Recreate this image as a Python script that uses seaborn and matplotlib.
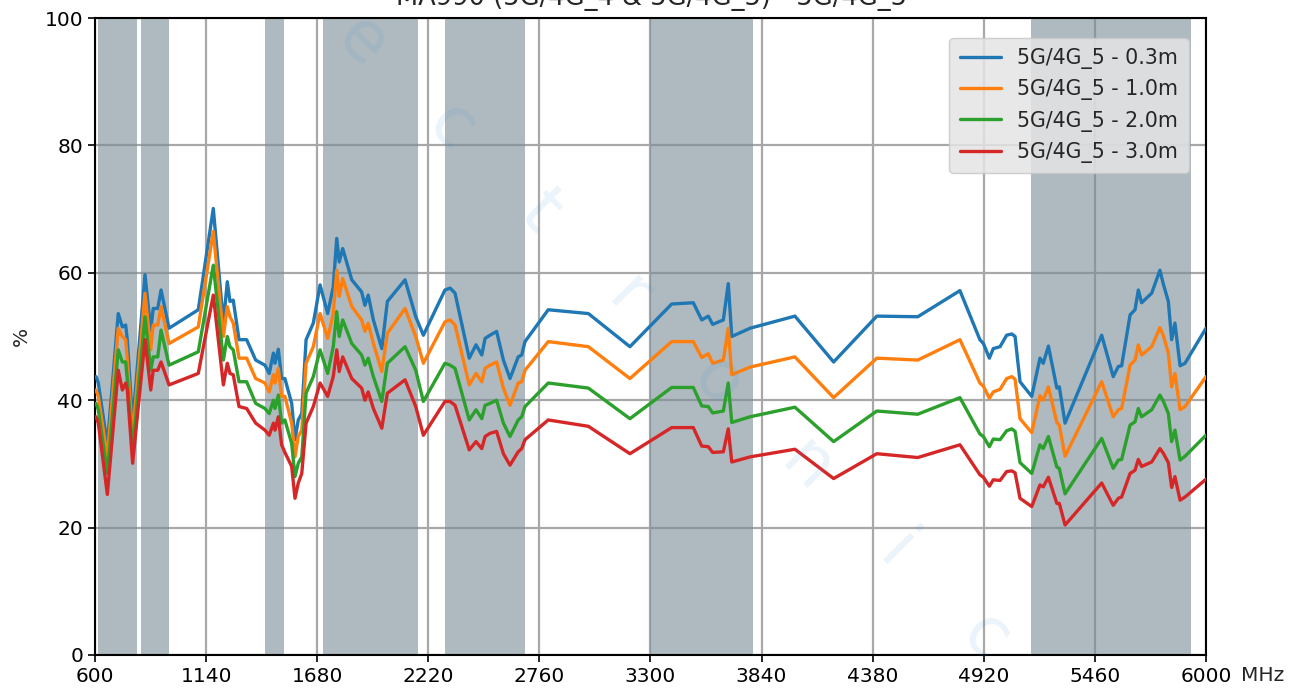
import numpy as np
import pandas as pd
import matplotlib
matplotlib.use("Agg")
import matplotlib.pyplot as plt
import seaborn as sns

freq_mhz = [605, 616, 660, 713, 733, 749, 757, 783, 843, 871, 883, 905, 921, 960,
            1102, 1175, 1224, 1243, 1256, 1272, 1300, 1337, 1381, 1426, 1447, 1467,
            1475, 1491, 1507, 1523, 1556, 1572, 1588, 1605, 1626, 1661, 1694, 1731,
            1758, 1775, 1787, 1804, 1848, 1896, 1912, 1928, 1953, 1994, 2021, 2107,
            2159, 2196, 2301, 2326, 2350, 2419, 2452, 2480, 2496, 2520, 2552, 2585,
            2617, 2657, 2674, 2690, 2803, 2998, 3200, 3403, 3508, 3549, 3581, 3602,
            3654, 3678, 3695, 3784, 4002, 4190, 4400, 4599, 4804, 4901, 4918, 4947,
            4966, 4999, 5031, 5056, 5072, 5096, 5153, 5193, 5209, 5234, 5275, 5287,
            5315, 5493, 5549, 5574, 5590, 5631, 5655, 5671, 5687, 5736, 5776, 5792,
            5817, 5833, 5849, 5874, 5898, 6000]

eff_03m = [43.7, 42.7, 33.0, 53.6, 51.5, 51.8, 49.5, 36.4, 59.7, 51.0, 54.4, 54.4, 57.3, 51.3,
           54.2, 70.1, 52.1, 58.6, 55.5, 55.7, 49.5, 49.5, 46.3, 45.5, 44.2, 47.4,
           45.8, 48.0, 43.4, 43.4, 39.5, 33.8, 36.9, 37.9, 49.5, 52.1, 58.1, 53.6,
           57.8, 65.4, 61.7, 63.8, 58.9, 57.0, 54.9, 56.5, 52.6, 48.1, 55.5, 58.9,
           53.1, 50.2, 57.3, 57.6, 56.8, 46.6, 48.7, 47.1, 49.7, 50.2, 50.8, 46.3,
           43.4, 46.8, 47.1, 49.2, 54.2, 53.6, 48.4, 55.1, 55.3, 52.6, 53.2, 51.9,
           52.6, 58.3, 50.0, 51.3, 53.2, 46.0, 53.2, 53.1, 57.2, 49.5, 48.9, 46.6,
           48.1, 48.4, 50.2, 50.4, 50.0, 42.9, 40.6, 46.6, 45.8, 48.5, 41.9, 42.1,
           36.4, 50.2, 43.7, 45.3, 45.4, 53.4, 54.2, 57.3, 55.3, 56.8, 60.4, 58.3,
           55.5, 49.5, 52.1, 45.4, 45.8, 51.3]

eff_10m = [41.6, 40.6, 31.0, 51.3, 50.0, 49.5, 46.3, 34.3, 56.8, 47.9, 51.8, 51.8, 54.7, 48.9,
           51.5, 66.5, 50.0, 54.7, 53.1, 52.1, 46.6, 46.6, 43.4, 42.7, 41.3, 44.0,
           42.7, 45.0, 40.6, 40.6, 36.4, 31.1, 34.3, 35.3, 45.8, 48.4, 53.6, 49.7,
           53.6, 60.4, 56.3, 59.1, 54.7, 52.6, 50.8, 52.1, 48.9, 44.5, 50.5, 54.4,
           50.0, 45.8, 52.3, 52.6, 51.8, 42.4, 44.2, 42.9, 45.0, 45.5, 46.0, 41.9,
           39.2, 42.7, 42.9, 44.7, 49.2, 48.4, 43.4, 49.2, 49.2, 46.7, 47.3, 45.8,
           46.3, 51.3, 44.0, 45.2, 46.8, 40.4, 46.6, 46.3, 49.5, 42.7, 42.2, 40.3,
           41.3, 41.7, 43.4, 43.7, 43.3, 37.1, 34.9, 40.7, 40.0, 42.1, 36.5, 36.1,
           31.2, 42.9, 37.4, 38.5, 38.7, 45.5, 46.3, 48.7, 47.1, 48.4, 51.4, 50.2,
           47.4, 42.1, 44.2, 38.5, 39.0, 43.7]

eff_20m = [39.5, 38.5, 28.5, 47.9, 46.0, 46.0, 43.2, 32.2, 53.1, 44.7, 46.8, 46.8, 51.0, 45.5,
           47.6, 61.2, 46.3, 50.0, 48.4, 47.9, 42.9, 42.9, 39.5, 38.7, 37.9, 40.0,
           38.7, 40.8, 36.4, 36.9, 33.2, 28.0, 30.1, 31.1, 41.1, 43.7, 47.9, 44.2,
           48.4, 53.9, 50.0, 52.6, 48.9, 47.1, 45.5, 46.6, 43.7, 39.8, 45.8, 48.4,
           44.7, 39.8, 45.8, 45.5, 45.0, 36.9, 38.5, 37.1, 39.2, 39.5, 40.0, 36.4,
           34.3, 36.9, 37.4, 39.0, 42.7, 41.9, 37.1, 42.0, 42.0, 39.1, 39.0, 38.0,
           38.3, 42.7, 36.5, 37.4, 38.9, 33.5, 38.3, 37.8, 40.4, 34.7, 34.3, 32.7,
           33.9, 33.8, 35.2, 35.5, 35.1, 30.2, 28.5, 33.0, 32.4, 34.3, 29.5, 29.3,
           25.3, 34.0, 29.3, 30.6, 30.7, 36.1, 36.6, 38.7, 37.4, 38.5, 40.8, 39.9,
           37.9, 33.5, 35.3, 30.6, 31.2, 34.5]

eff_30m = [37.4, 36.4, 25.2, 44.7, 41.6, 42.7, 41.6, 30.1, 49.5, 41.6, 44.7, 44.7, 46.0, 42.4,
           44.2, 56.5, 42.4, 45.8, 44.2, 44.0, 39.0, 38.7, 36.4, 35.3, 34.5, 36.4,
           35.3, 37.4, 33.0, 31.8, 29.6, 24.6, 27.0, 28.5, 36.4, 39.0, 42.7, 40.6,
           43.7, 47.9, 44.5, 46.8, 43.4, 41.9, 40.0, 41.3, 38.7, 35.6, 41.1, 43.2,
           39.0, 34.5, 39.8, 39.8, 39.2, 32.2, 33.5, 32.4, 34.3, 34.8, 35.1, 31.6,
           29.8, 31.9, 32.4, 33.8, 36.9, 35.9, 31.6, 35.7, 35.7, 32.8, 32.7, 31.8,
           31.9, 35.5, 30.3, 31.1, 32.3, 27.7, 31.6, 31.0, 33.0, 28.3, 27.9, 26.5,
           27.5, 27.4, 28.8, 28.9, 28.6, 24.6, 23.3, 26.7, 26.4, 27.9, 23.8, 23.8,
           20.4, 27.0, 23.5, 24.6, 24.8, 28.5, 29.0, 30.7, 29.6, 30.3, 32.4, 31.7,
           30.2, 26.3, 28.0, 24.3, 24.8, 27.6]

series_labels = ["5G/4G_5 - 0.3m", "5G/4G_5 - 1.0m", "5G/4G_5 - 2.0m", "5G/4G_5 - 3.0m"]
series_colors = ["#1f77b4", "#ff7f0e", "#2ca02c", "#d62728"]

band_starts = [617, 824, 1427, 1710, 2300, 3300, 5150]
band_ends = [803, 960, 1517, 2170, 2690, 3800, 5925]

x_ticks = [600, 1140, 1680, 2220, 2760, 3300, 3840, 4380, 4920, 5460, 6000]
y_ticks = [0, 20, 40, 60, 80, 100]
title_text = "MA990 (5G/4G_4 & 5G/4G_5) - 5G/4G_5"
watermark_letters = ["e", "c", "t", "r", "o", "n", "i", "c"]

frames = []
for lab, vals in zip(series_labels, [eff_03m, eff_10m, eff_20m, eff_30m]):
    frames.append(pd.DataFrame({"MHz": freq_mhz, "pct": vals, "series": lab}))
df = pd.concat(frames, ignore_index=True)

sns.set_style("white")
plt.rcParams["font.family"] = ["DejaVu Sans"]

W, H = 1304, 694
fig = plt.figure(figsize=(W / 100, H / 100), dpi=100)
ax = fig.add_axes([95 / W, 39 / H, 1111 / W, 637 / H])
ax.set_axisbelow(True)
ax.grid(True, color="#a8a8a8", linewidth=1.6)

for s, e in zip(band_starts, band_ends):
    ax.axvspan(s, e, color="#7a8c97", alpha=0.6, linewidth=0, zorder=1)

sns.lineplot(data=df, x="MHz", y="pct", hue="series", palette=series_colors,
             linewidth=2.4, ax=ax, zorder=3, sort=False, estimator=None)

ax.set_xlim(600, 6000)
ax.set_ylim(0, 100)
ax.set_xticks(x_ticks)
ax.set_yticks(y_ticks)
ax.tick_params(axis="both", labelsize=14.5, length=5, width=1.2, direction="out",
               bottom=True, left=True, colors="black")
for sp in ax.spines.values():
    sp.set_color("black")
    sp.set_linewidth(1.5)
ax.set_xlabel("")
ax.set_ylabel("%", fontsize=14.5)
ax.yaxis.set_label_coords(-0.058, 0.5)
ax.annotate("MHz", xy=(1, 0), xycoords="axes fraction", xytext=(25, -15),
            textcoords="offset points", fontsize=14.5, ha="left", va="center")

leg = ax.legend(loc="upper right", fontsize=14.8, frameon=True, facecolor="#e4e4e4",
                edgecolor="#c8c8c8", framealpha=0.85, handlelength=2.0,
                bbox_to_anchor=(0.9935, 0.985), borderpad=0.5, labelspacing=0.5)
for h in leg.get_lines():
    h.set_linewidth(2.4)

fig.text(0.5, 1 - 5 / H, title_text, ha="center", va="baseline", fontsize=18.5)

# light watermark overlay
wm_color = "#3d8fd1"
for i, ch in enumerate(watermark_letters):
    px = 362 + i * 89
    py = 42 + i * 85
    fig.text(px / W, 1 - py / H, ch, fontsize=50, color=wm_color, alpha=0.1,
             rotation=-45, ha="center", va="center", zorder=10)

fig.savefig("out.png", dpi=100)
